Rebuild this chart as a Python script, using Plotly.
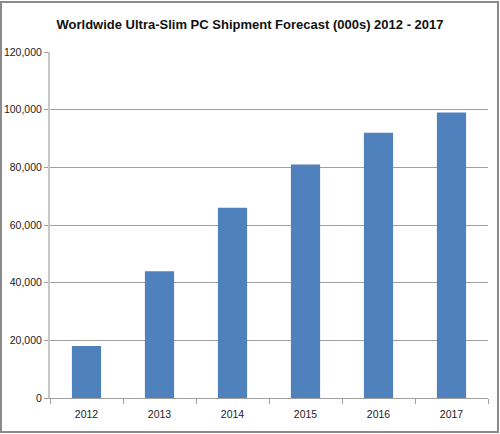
import plotly.graph_objects as go

years = ["2012", "2013", "2014", "2015", "2016", "2017"]
shipments = [18000, 44000, 66000, 81000, 92000, 99000]
y_ticks = [0, 20000, 40000, 60000, 80000, 100000, 120000]
y_tick_labels = ["0", "20,000", "40,000", "60,000", "80,000", "100,000", "120,000"]

PW, PH = 438, 346  # plot area size in px

fig = go.Figure(go.Bar(x=years, y=shipments, marker=dict(color="#4F81BD", line=dict(width=0))))

fig.update_layout(
    width=500, height=434,
    margin=dict(l=50, r=12, t=52, b=36, autoexpand=False),
    paper_bgcolor="white", plot_bgcolor="white",
    bargap=0.6,
    showlegend=False,
    font=dict(family="Liberation Sans, Arial, sans-serif", size=10, color="#222"),
    title=dict(text="<b>Worldwide Ultra-Slim PC Shipment Forecast (000s) 2012 - 2017</b>",
               x=0.5, xanchor="center", y=1 - 24/434, yanchor="middle",
               font=dict(family="Liberation Sans, Arial, sans-serif", size=13, color="#111")),
    shapes=[dict(type="rect", xref="paper", yref="paper", x0=-49/PW, x1=1 + 10/PW,
                 y0=-34/PH, y1=1 + 50/PH, line=dict(color="#8a8a8a", width=2), layer="above")],
)
fig.update_xaxes(showline=True, linecolor="#a0a0a0", linewidth=1, ticks="outside",
                 ticklen=5, tickcolor="#a0a0a0", tickson="boundaries", showgrid=False,
                 ticklabelstandoff=6,
                 tickfont=dict(size=10.5, color="#222"), automargin=False)
fig.update_yaxes(range=[0, 120000], tickvals=y_ticks, ticktext=y_tick_labels,
                 showgrid=True, gridcolor="#a0a0a0", gridwidth=1,
                 showline=True, linecolor="#c8c8c8", linewidth=2,
                 ticks="outside", ticklen=4, tickcolor="#a0a0a0", zeroline=False,
                 tickfont=dict(size=10.5, color="#222"), automargin=False)

fig.write_html("out.html", config={"displayModeBar": False},
               post_script="document.body.style.margin='0';")
